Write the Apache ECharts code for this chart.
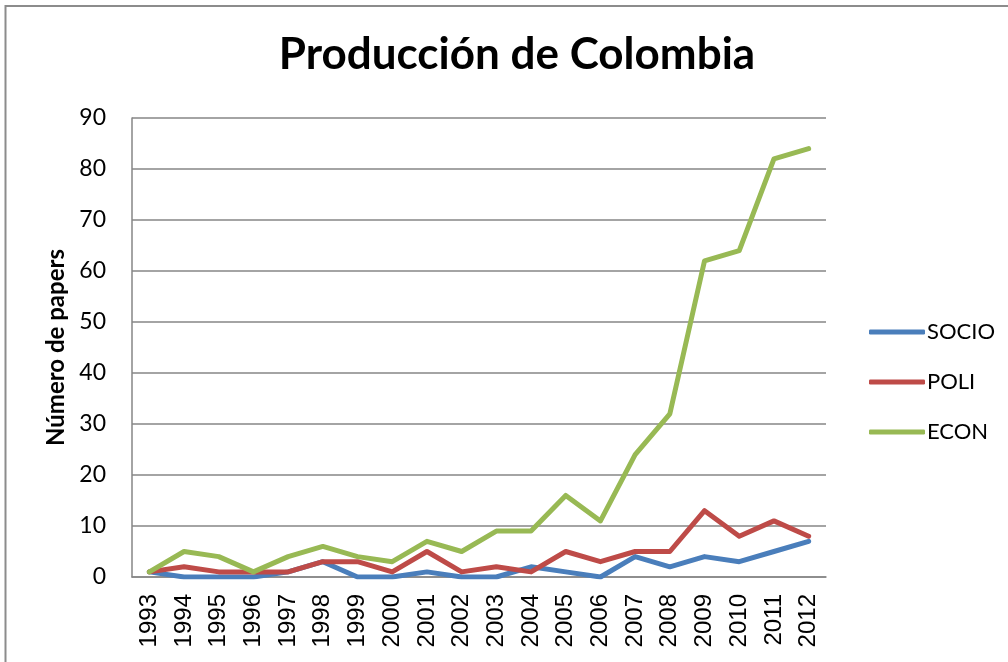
<!DOCTYPE html>
<html>
<head>
<meta charset="utf-8">
<script src="https://cdn.jsdelivr.net/npm/echarts@6/dist/echarts.min.js"></script>
<style>
html,body{margin:0;padding:0;background:#fff;}
#chart{width:1008px;height:662px;}
</style>
</head>
<body>
<div id="chart"></div>
<script>
const years = ['1993','1994','1995','1996','1997','1998','1999','2000','2001','2002','2003','2004','2005','2006','2007','2008','2009','2010','2011','2012'];
const socio = [1,0,0,0,1,3,0,0,1,0,0,2,1,0,4,2,4,3,5,7];
const poli  = [1,2,1,1,1,3,3,1,5,1,2,1,5,3,5,5,13,8,11,8];
const econ  = [1,5,4,1,4,6,4,3,7,5,9,9,16,11,24,32,62,64,82,84];
const yTicks = [0,10,20,30,40,50,60,70,80,90];

const calibriLike = 'Lato, "Open Sans", sans-serif';
const chart = echarts.init(document.getElementById('chart'), null, {renderer:'canvas'});
function mk(name, data, color){
  return {name, type:'line', data, symbol:'none', smooth:false,
    lineStyle:{color, width:5, cap:'round', join:'round'}, itemStyle:{color}, z:3};
}
chart.setOption({
  animation:false,
  backgroundColor:'#fff',
  graphic:[{type:'rect', shape:{x:5.5, y:6, width:1010, height:700},
    style:{fill:'none', stroke:'#8c8c8c', lineWidth:2}, silent:true}],
  title:{text:'Producción de Colombia', left:512, textAlign:'center', top:28,
    textStyle:{fontFamily:calibriLike, fontWeight:'bold', fontSize:44, color:'#000'}},
  legend:{orient:'vertical', left:864, top:316, itemWidth:56, itemHeight:5, itemGap:28,
    icon:'roundRect',
    textStyle:{fontFamily:calibriLike, fontSize:22, color:'#000', lineHeight:22, padding:[0,0,0,-3]},
    data:['SOCIO','POLI','ECON']},
  grid:{left:132, right:182, top:118, bottom:85, containLabel:false},
  xAxis:{type:'category', data:years, boundaryGap:true,
    axisLine:{show:true, lineStyle:{color:'#868686', width:1.5}},
    axisTick:{show:false},
    axisLabel:{rotate:90, interval:0, margin:17, fontFamily:'"Liberation Sans", Arial, sans-serif', fontSize:24, color:'#000'}},
  yAxis:{type:'value', min:0, max:90, interval:10,
    name:'Número de papers', nameLocation:'middle', nameGap:64, nameRotate:90,
    nameTextStyle:{fontFamily:calibriLike, fontWeight:'bold', fontSize:24, color:'#000'},
    axisLine:{show:true, lineStyle:{color:'#868686', width:1.5}},
    axisTick:{show:false},
    splitLine:{show:true, lineStyle:{color:'#868686', width:1.5}},
    axisLabel:{margin:26, fontFamily:calibriLike, fontSize:23, color:'#000',
      formatter:v=> yTicks.includes(v) ? String(v) : ''}},
  series:[mk('SOCIO', socio, '#4A7EBB'), mk('POLI', poli, '#BE4B48'), mk('ECON', econ, '#98B954')]
});
</script>
</body>
</html>
